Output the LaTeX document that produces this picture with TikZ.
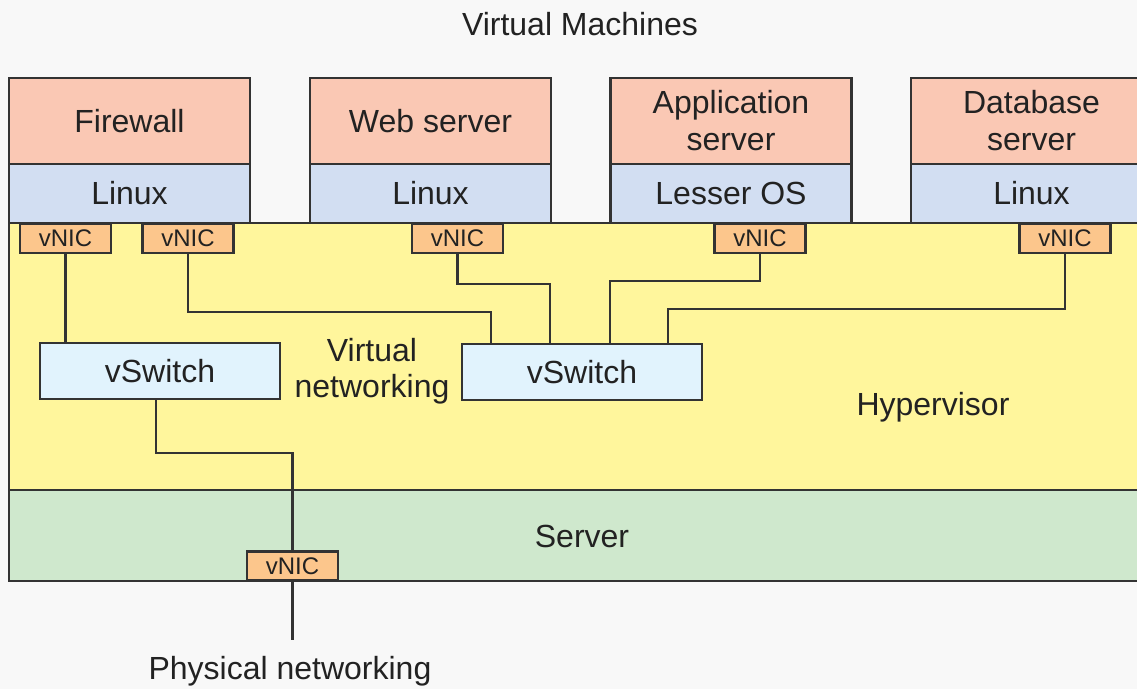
\documentclass[tikz,border=0pt]{standalone}
\usepackage{fontspec}
\setmainfont{Liberation Sans}
\definecolor{bgc}{HTML}{F8F8F8}
\definecolor{appc}{HTML}{FAC8B4}
\definecolor{osc}{HTML}{D2DEF2}
\definecolor{hypc}{HTML}{FFF69C}
\definecolor{srvc}{HTML}{CFE8CD}
\definecolor{swc}{HTML}{E1F3FD}
\definecolor{nicc}{HTML}{FCC68C}
\definecolor{lnc}{HTML}{333333}
\definecolor{txtc}{HTML}{222222}
\begin{document}
\begin{tikzpicture}[x=0.5pt,y=-0.5pt,
  box/.style={draw=lnc, line width=1.1pt, inner sep=0pt, text=txtc, align=center,
    font=\fontsize{16}{18.5}\selectfont},
  appbox/.style={box, fill=appc, minimum width=120.5pt, minimum height=43pt},
  osbox/.style={box, fill=osc, minimum width=120.5pt, minimum height=29.5pt},
  nicbox/.style={box, fill=nicc, minimum width=45.5pt, minimum height=14.5pt,
    font=\fontsize{12}{14}\selectfont},
  swbox/.style={box, fill=swc, minimum width=120pt, minimum height=28pt},
  wire/.style={draw=lnc, line width=1.1pt},
  layer/.style={draw=lnc, line width=1.1pt},
  lbl/.style={inner sep=0pt, text=txtc, align=center, font=\fontsize{16}{17.5}\selectfont}]
\clip (0,0) rectangle (1137,689);
\fill[bgc] (0,0) rectangle (1137,689);
\useasboundingbox (0,0) rectangle (1137,689);

% layers
\filldraw[layer, fill=hypc] (9,223) rectangle (1170,490);
\filldraw[layer, fill=srvc] (9,490) rectangle (1170,581);
\node[lbl] (hyptext) at (933,407) {Hypervisor};
\node[lbl] (srvtext) at (582,536) {Server};
\node[lbl, font=\fontsize{16}{18}\selectfont] (vnet) at (372,371) {Virtual\\networking};
\node[lbl] (vm) at (580,24) {Virtual Machines};

% virtual machines
\node[appbox] (fw) at (129.5,121) {Firewall};
\node[osbox] (os1) at (129.5,193.5) {Linux};
\node[appbox] (web) at (430.5,121) {Web server};
\node[osbox] (os2) at (430.5,193.5) {Linux};
\node[appbox] (appsrv) at (731,121) {Application\\server};
\node[osbox] (os3) at (731,193.5) {Lesser OS};
\node[appbox] (db) at (1031.5,121) {Database\\server};
\node[osbox] (os4) at (1031.5,193.5) {Linux};

% vNICs
\node[nicbox] (v1) at (65.5,238.5) {vNIC};
\node[nicbox] (v2) at (188,238.5) {vNIC};
\node[nicbox] (v3) at (457.5,238.5) {vNIC};
\node[nicbox] (v4) at (760,238.5) {vNIC};
\node[nicbox] (v5) at (1065,238.5) {vNIC};
\node[nicbox] (pv) at (292.5,566) {vNIC};

% vSwitches
\node[swbox] (swL) at (160,371) {vSwitch};
\node[swbox] (swR) at (582,372) {vSwitch};

% bend points
\coordinate (b2) at (491,312);
\coordinate (b3) at (550,284);
\coordinate (b4) at (610,281);
\coordinate (b5) at (668,309);
\coordinate (b6) at (156,453);
\coordinate (phys) at (292.5,640);

% connectors
\draw[wire] (v1.south) -- (v1.south |- swL.north);
\draw[wire] (v2.south) |- (b2) -- (b2 |- swR.north);
\draw[wire] (v3.south) |- (b3) -- (b3 |- swR.north);
\draw[wire] (v4.south) |- (b4) -- (b4 |- swR.north);
\draw[wire] (v5.south) |- (b5) -- (b5 |- swR.north);
\draw[wire] (b6 |- swL.south) -- (b6) -| (pv.north);
\draw[wire] (pv.south) -- (phys);

\node[lbl] (physnet) at (290,671) {Physical networking};
\end{tikzpicture}
\end{document}
